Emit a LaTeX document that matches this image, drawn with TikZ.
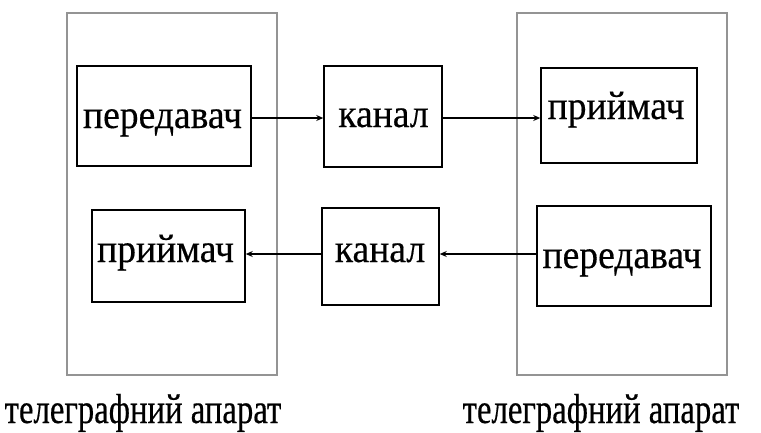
\documentclass[tikz,border=0pt]{standalone}
\usepackage{fontspec}
\setmainfont{Liberation Serif}
\newfontfamily\unitfont[FakeStretch=0.94,FakeBold=0.4]{Liberation Serif}
\newfontfamily\capfont[FakeStretch=0.78,FakeBold=0.4]{Liberation Serif}
\usetikzlibrary{arrows.meta}
\begin{document}
\begin{tikzpicture}[x=1pt,y=-1pt,
  apparatus/.style={draw=black!42,line width=1.3pt},
  unit/.style={draw=black,line width=1.5pt,inner sep=0pt},
  label text/.style={anchor=base,inner sep=0pt,font=\unitfont\fontsize{40}{42}\selectfont},
  link/.style={line width=1.2pt,-{Stealth[length=7pt,width=6pt]}},
  caption/.style={anchor=base,inner sep=0pt,font=\capfont\fontsize{42}{44}\selectfont}]
\useasboundingbox (0,0) rectangle (761,432);
% two telegraph sets
\draw[apparatus] (67,13) rectangle (277,375);
\draw[apparatus] (517,13) rectangle (727,375);
% functional units (frames)
\node[unit,minimum width=174pt,minimum height=100pt] (tx1) at (164,116) {};
\node[unit,minimum width=118pt,minimum height=101pt] (ch1) at (383,116.5) {};
\node[unit,minimum width=156pt,minimum height=95pt] (rx2) at (619,115.5) {};
\node[unit,minimum width=153pt,minimum height=92pt] (rx1) at (168.5,256) {};
\node[unit,minimum width=117pt,minimum height=97pt] (ch2) at (380.5,256.5) {};
\node[unit,minimum width=174pt,minimum height=100pt] (tx2) at (624,256) {};
% unit names
\node[label text] (tx1t) at (162.5,128) {передавач};
\node[label text] (ch1t) at (383.5,127) {канал};
\node[label text] (rx2t) at (616,119) {приймач};
\node[label text] (rx1t) at (165.5,262) {приймач};
\node[label text] (ch2t) at (380,262) {канал};
\node[label text] (tx2t) at (622,268) {передавач};
% signal paths
\draw[link] (tx1.east |- 0,118) -- (ch1.west |- 0,118);
\draw[link] (ch1.east |- 0,118) -- (rx2.west |- 0,118);
\draw[link] (tx2.west |- 0,254) -- (ch2.east |- 0,254);
\draw[link] (ch2.west |- 0,254) -- (rx1.east |- 0,254);
% captions
\node[caption] (cap1) at (143,423) {телеграфний апарат};
\node[caption] (cap2) at (601,423) {телеграфний апарат};
\end{tikzpicture}
\end{document}
